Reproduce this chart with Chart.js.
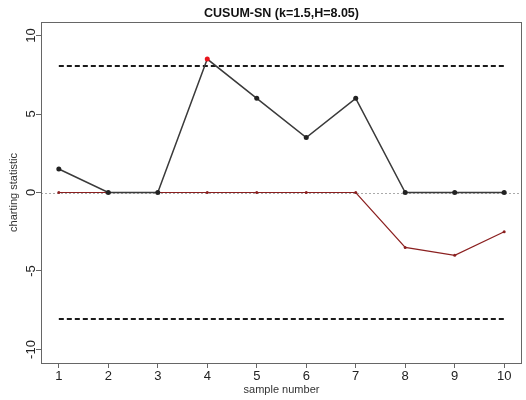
<!DOCTYPE html>
<html>
<head>
<meta charset="utf-8">
<script src="https://cdn.jsdelivr.net/npm/chart.js@4/dist/chart.umd.min.js"></script>
<style>
  html, body { margin: 0; padding: 0; background: #fff; }
  #wrap { width: 526px; height: 400px; }
</style>
</head>
<body>
<div id="wrap"><canvas id="chart"></canvas></div>
<script>
const samples = [1, 2, 3, 4, 5, 6, 7, 8, 9, 10];
const upperStat = [1.5, 0, 0, 8.5, 6, 3.5, 6, 0, 0, 0];
const lowerStat = [0, 0, 0, 0, 0, 0, 0, -3.5, -4, -2.5];
const limitH = 8.05;
const yTicks = [-10, -5, 0, 5, 10];
const titleText = 'CUSUM-SN (k=1.5,H=8.05)';

const FONT = '"Liberation Sans", Arial, sans-serif';

const toPoints = (vals) => samples.map((x, i) => ({ x, y: vals[i] }));

// R-style frame, rotated y labels, titles, zero reference line
const rStyle = {
  id: 'rStyle',
  beforeDatasetsDraw(chart) {
    const { ctx, chartArea, scales } = chart;
    const y0 = Math.round(scales.y.getPixelForValue(0)) + 0.5;
    ctx.save();
    ctx.strokeStyle = '#aaaaaa';
    ctx.lineWidth = 1;
    ctx.setLineDash([2, 2]);
    ctx.beginPath();
    ctx.moveTo(chartArea.left, y0);
    ctx.lineTo(chartArea.right, y0);
    ctx.stroke();
    ctx.restore();
  },
  afterDraw(chart) {
    const { ctx, chartArea, scales } = chart;
    const { left, right, top, bottom } = chartArea;
    ctx.save();
    ctx.strokeStyle = '#666666';
    ctx.lineWidth = 1;
    ctx.strokeRect(Math.round(left) + 0.5, Math.round(top) + 0.5,
      Math.round(right - left) - 1, Math.round(bottom - top));

    ctx.fillStyle = '#222222';
    ctx.textAlign = 'center';
    ctx.textBaseline = 'middle';

    // y tick labels, turned like R's las=0
    ctx.font = '13px ' + FONT;
    yTicks.forEach((v) => {
      const py = scales.y.getPixelForValue(v);
      ctx.save();
      ctx.translate(31, py);
      ctx.rotate(-Math.PI / 2);
      ctx.fillText(String(v), 0, 0);
      ctx.restore();
    });

    ctx.font = 'bold 12.5px ' + FONT;
    ctx.fillStyle = '#111111';
    ctx.fillText(titleText, (left + right) / 2, 14);

    ctx.fillStyle = '#333333';
    ctx.font = '11px ' + FONT;
    ctx.fillText('sample number', (left + right) / 2, 390);

    ctx.save();
    ctx.translate(14, (top + bottom) / 2);
    ctx.rotate(-Math.PI / 2);
    ctx.fillText('charting statistic', 0, 0);
    ctx.restore();
    ctx.restore();
  }
};

new Chart(document.getElementById('chart'), {
  type: 'line',
  data: {
    datasets: [
      {
        label: 'upper',
        data: toPoints(upperStat),
        borderColor: '#3a3a3a',
        borderWidth: 1.5,
        pointRadius: 2.5,
        pointBorderWidth: 0,
        pointBackgroundColor: upperStat.map((v) => (v > limitH ? '#e8141c' : '#222222')),
        order: 1
      },
      {
        label: 'lower',
        data: toPoints(lowerStat),
        borderColor: '#8b2020',
        borderWidth: 1.2,
        pointRadius: 1.5,
        pointBorderWidth: 0,
        pointBackgroundColor: '#8b2020',
        order: 2
      },
      {
        label: 'UCL',
        data: toPoints(samples.map(() => limitH)),
        borderColor: '#1a1a1a',
        borderWidth: 2,
        borderDash: [5, 3],
        pointRadius: 0,
        order: 3
      },
      {
        label: 'LCL',
        data: toPoints(samples.map(() => -limitH)),
        borderColor: '#1a1a1a',
        borderWidth: 2,
        borderDash: [5, 3],
        pointRadius: 0,
        order: 3
      }
    ]
  },
  options: {
    responsive: true,
    maintainAspectRatio: false,
    animation: false,
    layout: { padding: { top: 22, right: 1, left: 0, bottom: 0 } },
    plugins: {
      legend: { display: false },
      tooltip: { enabled: false },
      title: { display: false }
    },
    scales: {
      x: {
        type: 'linear',
        min: 0.64,
        max: 10.36,
        afterBuildTicks: (scale) => { scale.ticks = samples.map((v) => ({ value: v })); },
        afterFit: (scale) => { scale.height = 37; },
        grid: { drawOnChartArea: false, drawTicks: true, tickLength: 5, color: '#666666' },
        border: { display: false },
        ticks: {
          color: '#222222',
          padding: 1,
          maxRotation: 0,
          font: { family: FONT, size: 13 }
        }
      },
      y: {
        min: -10.86,
        max: 10.86,
        afterBuildTicks: (scale) => { scale.ticks = yTicks.map((v) => ({ value: v })); },
        afterFit: (scale) => { scale.width = 41; },
        grid: { drawOnChartArea: false, drawTicks: true, tickLength: 5, color: '#666666' },
        border: { display: false },
        ticks: { display: false }
      }
    }
  },
  plugins: [rStyle]
});
</script>
</body>
</html>
